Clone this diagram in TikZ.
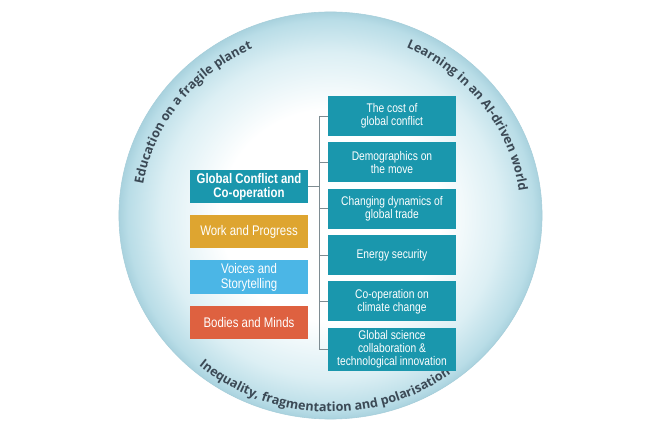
\documentclass[tikz,border=0pt]{standalone}
\usepackage{fontspec}
\setmainfont{Liberation Sans}
\newfontfamily\narrowfont[FakeStretch=0.82]{Liberation Sans}
\newfontfamily\ringfont{Open Sans}
\usetikzlibrary{positioning,calc,decorations.text}
\definecolor{themeteal}{HTML}{1A97AD}
\definecolor{gold}{HTML}{DEA530}
\definecolor{sky}{HTML}{4BB6E6}
\definecolor{brick}{HTML}{DE6140}
\definecolor{ringink}{HTML}{3B4955}
\definecolor{linkgray}{HTML}{7E8C92}
\definecolor{halomid}{HTML}{DCEFF4}
\definecolor{haloedge}{HTML}{B9DDE7}
\definecolor{halorim}{HTML}{A9D2DE}
\pgfdeclareradialshading{halo}{\pgfpointorigin}{color(0bp)=(white); color(13bp)=(white);
  color(20bp)=(halomid); color(24bp)=(haloedge); color(25bp)=(halorim); color(50bp)=(halorim)}

\begin{document}
\begin{tikzpicture}[
  x=0.025cm, y=0.025cm, font=\narrowfont,
  theme/.style={text=white, align=center, inner sep=2pt},
  topic/.style={theme, minimum width=2.95cm, minimum height=0.825cm,
                font=\narrowfont\fontsize{9.9}{10.6}\selectfont},
  subtopic/.style={theme, fill=themeteal, minimum width=3.2cm, minimum height=1cm,
                   font=\narrowfont\fontsize{8.9}{9.3}\selectfont},
  link/.style={draw=linkgray, line width=0.6pt},
  ring/.style={decorate, decoration={text along path, text align=center, text color=ringink,
               text={|\ringfont\bfseries\fontsize{9}{10}\selectfont|#1}}}]
% ---------- canvas and ring
\fill[white] (0,0) rectangle (660,440);
\useasboundingbox (0,0) rectangle (660,440);
\coordinate (hub) at (330.5,224.5);
\path[shade, shading=halo, draw=halorim!80!black!10!halorim, line width=0.4pt]
  (hub) ellipse [x radius=5.2875cm, y radius=5.0875cm];
\path[ring={Education on a fragile planet}] ([shift={(185:4.75cm and 4.57cm)}]hub)
  arc[start angle=185, end angle=100, x radius=4.75cm, y radius=4.57cm];
\path[ring={Learning in an AI-driven world}] ([shift={(80:4.75cm and 4.57cm)}]hub)
  arc[start angle=80, end angle=-6.4, x radius=4.75cm, y radius=4.57cm];
\path[ring={Inequality, fragmentation and polarisation}] ([shift={(218:5.1cm and 4.91cm)}]hub)
  arc[start angle=218, end angle=318, x radius=5.1cm, y radius=4.91cm];
% ---------- themes
\node[topic, fill=themeteal, font=\narrowfont\bfseries\fontsize{9.9}{10}\selectfont] (conflict)
  at (249,253.5) {Global Conflict and\\Co-operation};
\node[topic, fill=gold, below=2.9mm of conflict] (work) {Work and Progress};
\node[topic, fill=sky, below=2.9mm of work] (voices) {Voices and\\Storytelling};
\node[topic, fill=brick, below=2.9mm of voices] (bodies) {Bodies and Minds};
% ---------- sub-topics
\node[subtopic] (cost) at (392,324) {The cost of\\global conflict};
\node[subtopic, below=1.45mm of cost] (demo) {Demographics on\\the move};
\node[subtopic, below=1.45mm of demo] (trade) {Changing dynamics of\\global trade};
\node[subtopic, below=1.45mm of trade] (energy) {Energy security};
\node[subtopic, below=1.45mm of energy] (climate) {Co-operation on\\climate change};
\node[subtopic, below=1.45mm of climate] (science) {Global science\\collaboration \&\\technological innovation};
% ---------- links
\coordinate (spine) at (319,0);
\draw[link] (conflict.east) -- (spine |- conflict.east);
\draw[link] (spine |- cost.west) -- (spine |- science.west);
\foreach \t in {cost,demo,trade,energy,climate,science}
  \draw[link] (spine |- \t.west) -- (\t.west);
\end{tikzpicture}
\end{document}
